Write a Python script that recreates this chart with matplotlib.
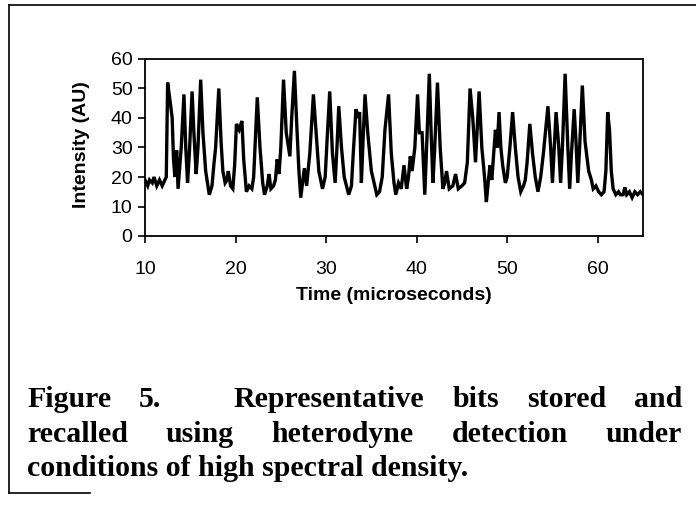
import matplotlib
matplotlib.use("Agg")
import matplotlib.pyplot as plt
from matplotlib.lines import Line2D

# trace (time in microseconds, intensity in AU)
time_us = [
    10.0, 10.3, 10.5, 10.8, 11.0, 11.3, 11.6, 11.9, 12.2, 12.35, 12.5, 12.8, 13.0, 13.15,
    13.3, 13.5, 13.65, 13.8, 14.0, 14.3, 14.5, 14.7, 14.9, 15.2, 15.4, 15.65, 15.85, 16.15,
    16.4, 16.7, 17.1, 17.4, 17.6, 17.8, 18.15, 18.4, 18.6, 18.85, 19.05, 19.2, 19.45, 19.7,
    19.9, 20.1, 20.4, 20.7, 20.9, 21.2, 21.5, 21.8, 22.0, 22.4, 22.7, 23.0, 23.2, 23.5,
    23.7, 23.9, 24.2, 24.4, 24.6, 24.8, 25.0, 25.3, 25.6, 26.0, 26.2, 26.5, 26.8, 27.0,
    27.2, 27.4, 27.6, 27.85, 28.2, 28.6, 28.9, 29.2, 29.6, 29.9, 30.1, 30.4, 30.7, 31.0,
    31.2, 31.4, 31.7, 32.0, 32.5, 32.8, 33.0, 33.3, 33.5, 33.7, 33.9, 34.05, 34.3, 34.6,
    35.0, 35.6, 35.9, 36.2, 36.5, 36.9, 37.2, 37.5, 37.7, 38.0, 38.3, 38.6, 38.9, 39.1,
    39.3, 39.5, 39.8, 40.1, 40.3, 40.6, 40.9, 41.1, 41.4, 41.6, 41.8, 42.0, 42.3, 42.6,
    42.9, 43.1, 43.3, 43.6, 44.0, 44.3, 44.6, 45.0, 45.3, 45.6, 45.9, 46.2, 46.5, 46.9,
    47.2, 47.5, 47.7, 47.9, 48.1, 48.3, 48.7, 48.9, 49.1, 49.3, 49.5, 49.8, 50.0, 50.3,
    50.6, 50.9, 51.2, 51.5, 51.8, 52.0, 52.2, 52.5, 52.8, 53.1, 53.4, 53.7, 54.0, 54.5,
    54.8, 55.0, 55.2, 55.4, 55.7, 55.9, 56.1, 56.4, 56.7, 56.9, 57.1, 57.4, 57.6, 57.8,
    58.0, 58.3, 58.6, 59.0, 59.3, 59.5, 59.8, 60.1, 60.4, 60.7, 60.9, 61.1, 61.3, 61.5,
    61.7, 62.0, 62.3, 62.5, 62.8, 63.0, 63.2, 63.5, 63.8, 64.1, 64.4, 64.7, 65.0,
]
intensity = [
    19, 17, 19, 18, 20, 17, 19, 17, 19, 20, 52, 45, 40, 26,
    20, 29, 16, 22, 30, 48, 30, 18, 28, 49, 35, 21, 30, 53,
    35, 22, 14, 17, 24, 30, 50, 32, 22, 18, 19, 22, 17, 16,
    24, 38, 36, 39, 26, 15, 17, 16, 20, 47, 30, 18, 14, 17,
    21, 16, 17, 19, 26, 21, 30, 53, 35, 27, 40, 56, 35, 22,
    13, 18, 23, 17, 28, 48, 35, 22, 16, 20, 32, 49, 28, 18,
    30, 44, 30, 20, 14, 17, 28, 43, 40, 42, 18, 30, 48, 35,
    22, 14, 15, 20, 36, 48, 28, 18, 14, 18, 16, 24, 16, 20,
    27, 22, 30, 48, 35, 35, 14, 30, 55, 35, 18, 30, 52, 30,
    16, 18, 22, 16, 17, 21, 16, 17, 18, 25, 50, 40, 25, 49,
    30, 20, 11.5, 18, 24, 19, 36, 30, 42, 30, 24, 18, 20, 30,
    42, 30, 20, 15, 17, 19, 25, 38, 28, 20, 15, 20, 28, 44,
    30, 18, 30, 42, 30, 18, 30, 55, 30, 16, 28, 43, 32, 18,
    30, 51, 32, 22, 19, 16, 17, 15, 14, 15, 22, 42, 36, 22,
    16, 14, 15, 14, 14, 16.5, 14, 15, 13, 15, 14, 15, 14,
]

x_ticks = [10, 20, 30, 40, 50, 60]
y_ticks = [0, 10, 20, 30, 40, 50, 60]

caption_lines = [
    ["Figure", "5.", "Representative", "bits", "stored", "and"],
    ["recalled", "using", "heterodyne", "detection", "under"],
    ["conditions of high spectral density."],
]

W, H = 696, 509
fig = plt.figure(figsize=(W / 100, H / 100), dpi=100)
ax = fig.add_axes([145 / W, 1 - 236 / H, (643 - 145) / W, (236 - 59) / H])

ax.plot(time_us, intensity, color="black", linewidth=2.4, solid_joinstyle="miter")
ax.set_xlim(10, 65)
ax.set_ylim(0, 60)
ax.set_xticks(x_ticks)
ax.set_yticks(y_ticks)
for s in ax.spines.values():
    s.set_linewidth(1.3)
ax.tick_params(axis="both", direction="out", length=5, width=1.2, labelsize=14)
ax.tick_params(axis="y", pad=4)
ax.tick_params(axis="x", pad=13)
for lab in ax.get_xticklabels() + ax.get_yticklabels():
    lab.set_fontfamily("Liberation Sans")

fig.text(82 / W, 1 - 145 / H, "Intensity (AU)", rotation=90, ha="center", va="center",
         fontsize=14, fontweight="bold", family="Liberation Sans")
fig.text(394 / W, 1 - 296 / H, "Time (microseconds)", ha="center", va="center",
         fontsize=14, fontweight="bold", family="Liberation Sans")

# outer frame of the figure box
fig.add_artist(Line2D([9 / W, 9 / W], [1 - 5 / H, 1 - 493 / H], color="black", lw=1.2))
fig.add_artist(Line2D([9 / W, 1.0], [1 - 5 / H, 1 - 5 / H], color="black", lw=1.2))
fig.add_artist(Line2D([9 / W, 90 / W], [1 - 493 / H, 1 - 493 / H], color="black", lw=1.2))

# justified caption
cap_left, cap_right = 27, 682
baselines = [407, 442, 476]
gap_weights = [[1, 2.6, 1, 1, 1], [1, 1, 1, 1], []]
fig.canvas.draw()
renderer = fig.canvas.get_renderer()
for words, yb, weights in zip(caption_lines, baselines, gap_weights):
    texts = [fig.text(0, 1 - yb / H, w, ha="left", va="baseline", fontsize=21.5,
                      fontweight="bold", family="Liberation Serif") for w in words]
    widths = [t.get_window_extent(renderer).width for t in texts]
    if len(words) == 1:
        texts[0].set_x(cap_left / W)
        continue
    free = (cap_right - cap_left) - sum(widths)
    unit = free / sum(weights)
    x = cap_left
    for i, t in enumerate(texts):
        t.set_x(x / W)
        x += widths[i]
        if i < len(weights):
            x += unit * weights[i]

fig.savefig("out.png", dpi=100)
